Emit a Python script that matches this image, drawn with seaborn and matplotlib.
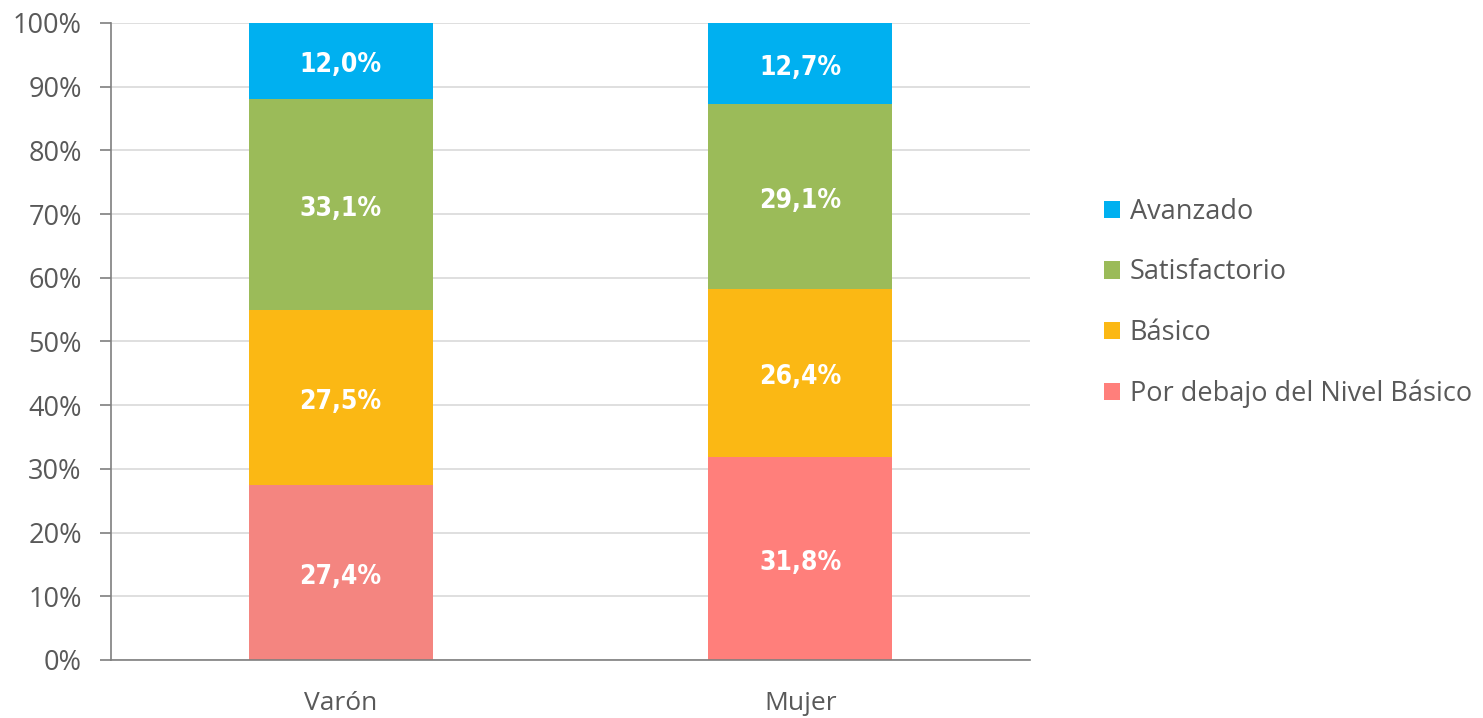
import pandas as pd
import matplotlib.pyplot as plt
import seaborn as sns
from matplotlib.patches import Patch
from matplotlib.ticker import PercentFormatter, FixedLocator

# data
grupos = ["Varón", "Mujer"]
niveles = ["Por debajo del Nivel Básico", "Básico", "Satisfactorio", "Avanzado"]
por_debajo = [27.4, 31.8]
basico = [27.5, 26.4]
satisfactorio = [33.1, 29.1]
avanzado = [12.0, 12.7]

colores = {"Por debajo del Nivel Básico": "#FF7F7B", "Básico": "#FBB814",
           "Satisfactorio": "#9BBB59", "Avanzado": "#00B0F0"}
colores_debajo = ["#F48580", "#FF7F7B"]

df = pd.DataFrame({"grupo": grupos,
                   "Por debajo del Nivel Básico": por_debajo,
                   "Básico": basico,
                   "Satisfactorio": satisfactorio,
                   "Avanzado": avanzado})

sns.set_style("white")
plt.rcParams["font.family"] = ["Open Sans", "DejaVu Sans"]

fig = plt.figure(figsize=(14.83, 7.18), dpi=100)
ax = fig.add_axes([0.0748, 0.0808, 0.6197, 0.8872])

# stacked bars: draw cumulative totals from top layer down
cum = df[niveles].cumsum(axis=1)
for nivel in reversed(niveles):
    if nivel == niveles[0]:
        sns.barplot(x=df["grupo"], y=cum[nivel], hue=df["grupo"], palette=colores_debajo,
                    width=0.4, ax=ax, legend=False, saturation=1, linewidth=0, zorder=3)
    else:
        sns.barplot(x=df["grupo"], y=cum[nivel], color=colores[nivel],
                    width=0.4, ax=ax, saturation=1, linewidth=0, zorder=3)

# labels in the middle of each segment
for i in range(len(grupos)):
    base = 0
    for nivel in niveles:
        v = df.loc[i, nivel]
        ax.annotate(f"{v:.1f}%".replace(".", ","), (i, base + v / 2), xytext=(0, -3),
                    textcoords="offset points", ha="center", va="center",
                    color="white", fontsize=19, fontweight="bold", fontstretch="condensed",
                    family=["DejaVu Sans"], zorder=4)
        base += v

ax.set_xlim(-0.5, 1.5)
ax.set_ylim(0, 100)
ax.set_yticks(range(0, 101, 10))
ax.yaxis.set_major_formatter(PercentFormatter(decimals=0))
ax.yaxis.grid(True, color="#D9D9D9", linewidth=1.2, zorder=0)
ax.set_xlabel("")
ax.set_ylabel("")

ax.xaxis.set_minor_locator(FixedLocator([-0.5, 0.5, 1.5]))
ax.tick_params(axis="x", which="major", length=0, labelsize=19, labelcolor="#595959", pad=22)
ax.tick_params(axis="x", which="minor", length=8, width=1.2, color="#7F7F7F", direction="out")
ax.tick_params(axis="y", length=8, width=1.2, color="#7F7F7F", labelsize=19.5,
               labelcolor="#595959", pad=13, left=True)

sns.despine(ax=ax, top=True, right=True)
for s in ["left", "bottom"]:
    ax.spines[s].set_color("#7F7F7F")
    ax.spines[s].set_linewidth(1.2)
    ax.spines[s].set_zorder(5)

handles = [Patch(facecolor=colores[n], edgecolor="none") for n in reversed(niveles)]
fig.legend(handles, list(reversed(niveles)), loc="center left", bbox_to_anchor=(0.737, 0.578),
           frameon=False, fontsize=19.5, labelcolor="#595959", handlelength=0.6,
           handleheight=0.6, handletextpad=0.35, labelspacing=1.2, borderaxespad=0)

fig.savefig("out.png", dpi=100)
